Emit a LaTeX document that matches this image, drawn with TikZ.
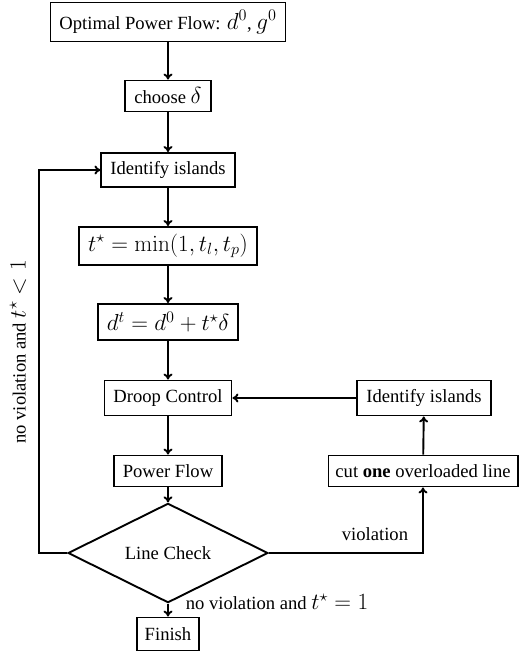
\RequirePackage{fix-cm}
\documentclass[tikz,border=0pt]{standalone}
\usepackage[no-math]{fontspec}
\setmainfont{Liberation Serif}
\DeclareMathSizes{18.6}{23.2}{16.2}{11.6}
\usetikzlibrary{shapes.geometric,arrows.meta}
\begin{document}
\begin{tikzpicture}[x=1pt,y=-1pt,
  font=\fontsize{18.6}{22}\selectfont,
  every node/.style={inner sep=0pt},
  box/.style={draw,line width=1.9pt,minimum height=33pt,inner xsep=9pt},
  arr/.style={line width=1.9pt,-{To[length=6pt,width=9pt]}}]
\useasboundingbox (0,0) rectangle (520,654);
\node[box,minimum height=39pt] (opf) at (168,22) {Optimal Power Flow: $d^0$, $g^0$};
\node[box,minimum height=31pt] (chs) at (168,96) {choose $\delta$};
\node[box,minimum height=34pt] (isl) at (168,170) {Identify islands};
\node[box,minimum height=38pt] (tst) at (168,246) {$t^\star=\min(1,t_l,t_p)$};
\node[box,minimum height=36pt] (dt) at (168,322) {$d^t=d^0+t^\star\delta$};
\node[box,minimum height=35pt] (drp) at (168,398) {Droop Control};
\node[box,minimum height=35pt] (isr) at (424,398) {Identify islands};
\node[box,minimum height=31pt] (pf) at (168,471) {Power Flow};
\node[box,minimum height=31pt,inner xsep=7pt] (cut) at (423,471) {cut \textbf{one} overloaded line};
\node[draw,diamond,line width=1.9pt,minimum width=200pt,minimum height=52pt] (lc) at (168,553) {Line Check};
\node[box,minimum height=33pt,inner xsep=8pt] (fin) at (168,634) {Finish};
\coordinate (lp) at (39,553);
\draw[arr] (opf) -- (chs);
\draw[arr] (chs) -- (isl);
\draw[arr] (isl) -- (tst);
\draw[arr] (tst) -- (dt);
\draw[arr] (dt) -- (drp);
\draw[arr] (drp) -- (pf);
\draw[arr] (pf) -- (lc);
\draw[arr] (lc) -- (fin);
\draw[arr] (lc.east) -| (cut.south);
\draw[arr] (cut) -- (isr);
\draw[arr] (isr) -- (drp);
\draw[arr] (lc.west) -- (lp) |- (isl.west);
\node (lv) at (375,534) {violation};
\node (lf) at (277,602) {no violation and $t^\star=1$};
\node[rotate=90] (ll) at (18,352) {no violation and $t^\star<1$};
\end{tikzpicture}
\end{document}
